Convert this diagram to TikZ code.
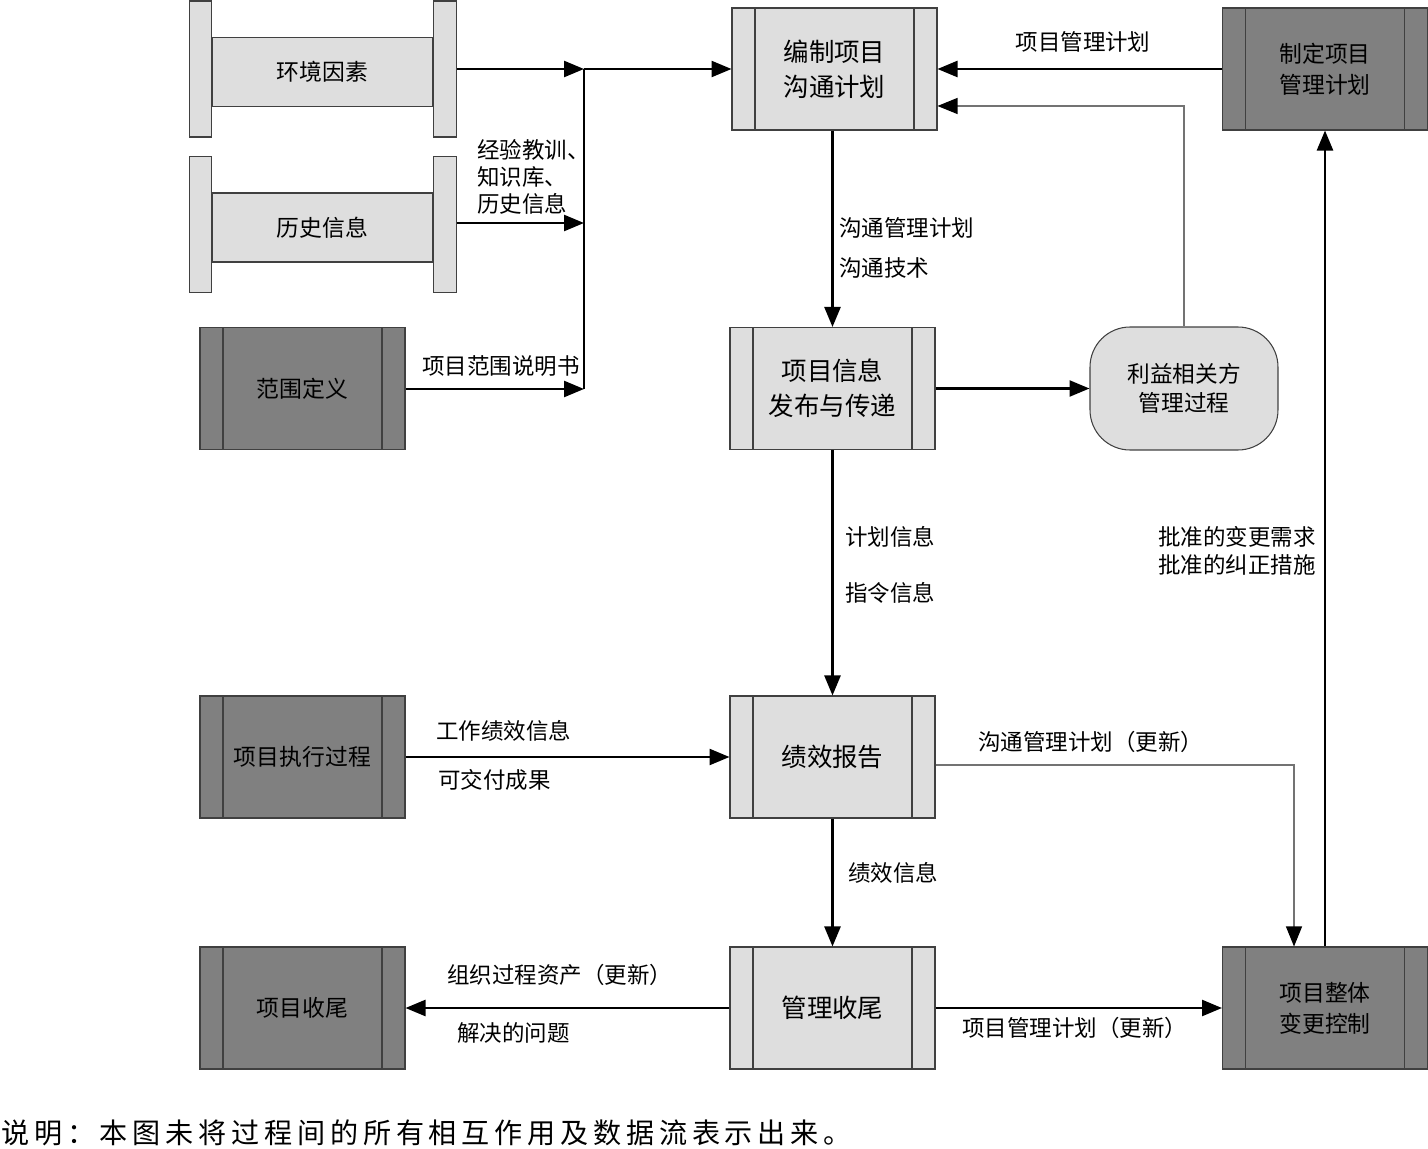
\documentclass[tikz,border=0pt]{standalone}
\usepackage{fontspec}
\setmainfont{Noto Sans CJK SC}
\newfontfamily\notefont[LetterSpace=17]{Noto Sans CJK SC}
\usetikzlibrary{arrows.meta}

\colorlet{lightbox}{black!13}
\colorlet{darkbox}{black!50}
\colorlet{thinline}{black!55}

\tikzset{
  proc/.style = {draw = black!75, line width = 0.6pt, minimum width = 4.1cm, minimum height = 2.44cm,
    align = center, inner sep = 0pt,
    path picture = {\draw[black!75, line width = 0.6pt]
      ([xshift = 0.46cm]path picture bounding box.north west) -- ([xshift = 0.46cm]path picture bounding box.south west)
      ([xshift = -0.46cm]path picture bounding box.north east) -- ([xshift = -0.46cm]path picture bounding box.south east);}},
  lightproc/.style = {proc, fill = lightbox, font = \fontsize{14.5}{20}\selectfont},
  darkproc/.style = {proc, fill = darkbox, font = \fontsize{13}{17.5}\selectfont},
  store/.style = {draw = black!75, fill = lightbox, line width = 0.6pt, minimum width = 4.42cm,
    minimum height = 1.38cm, inner sep = 0pt, font = \fontsize{13}{17}\selectfont},
  party/.style = {draw = black!75, fill = lightbox, line width = 0.6pt, rounded corners = 0.8cm,
    minimum width = 3.76cm, minimum height = 2.46cm, align = center, font = \fontsize{12.9}{16.5}\selectfont},
  lbl/.style = {inner sep = 0pt, align = left, font = \fontsize{12.8}{15.5}\selectfont},
  flow/.style = {line width = 1.4pt, -{Triangle[length = 0.4cm, width = 0.32cm]}},
  thinflow/.style = {thinline, line width = 0.6pt, -{Triangle[length = 0.4cm, width = 0.32cm, color = black]}}
}

\begin{document}
\begin{tikzpicture}[x = 0.02cm, y = -0.02cm]
\useasboundingbox (0,0) rectangle (1428,1149);

% inputs on the left
\node[store] (env) at (322.5,72) {环境因素};
\node[store] (hist) at (322.5,227.5) {历史信息};
\foreach \n in {env,hist}
{
	\filldraw[fill = lightbox, draw = black!75, line width = 0.6pt] ([yshift = 0.72cm]\n.north west) rectangle ([xshift = -0.44cm, yshift = -0.6cm]\n.south west);
	\filldraw[fill = lightbox, draw = black!75, line width = 0.6pt] ([yshift = 0.72cm]\n.north east) rectangle ([xshift = 0.46cm, yshift = -0.6cm]\n.south east);
}
\node[darkproc] (scope) at (302.5,388.5) {范围定义};
\node[darkproc] (exec) at (302.5,757) {项目执行过程};
\node[darkproc] (closeproj) at (302.5,1008) {项目收尾};

% communication processes
\node[lightproc] (plan) at (834.5,69) {编制项目\\沟通计划};
\node[lightproc] (dist) at (832.5,388.5) {项目信息\\发布与传递};
\node[lightproc] (perf) at (832.5,757) {绩效报告};
\node[lightproc] (admin) at (832.5,1008) {管理收尾};

% other processes
\node[darkproc] (pmp) at (1325,69) {制定项目\\管理计划};
\node[party] (stake) at (1184,388.5) {利益相关方\\管理过程};
\node[darkproc] (icc) at (1325,1008) {项目整体\\变更控制};

% bus into the planning process
\coordinate (bustop) at (584,69);
\coordinate (busmid) at (584,223);
\coordinate (busbot) at (584,389);
\draw[line width = 1.4pt] (bustop) -- (busbot);
\draw[flow] ([xshift = 0.46cm]env.east |- bustop) -- (bustop);
\draw[flow] ([xshift = 0.46cm]hist.east |- busmid) -- (busmid);
\draw[flow] (scope.east |- busbot) -- (busbot);
\draw[flow] (bustop) -- (plan.west);

\draw[flow] (pmp.west) -- (plan.east);
\draw[thinflow] (stake.north) |- ([yshift = -0.74cm]plan.east);
\draw[flow] (plan.south -| dist.north) -- (dist.north);
\draw[flow] (dist.east) -- (stake.west);
\draw[flow] (dist.south) -- (perf.north);
\draw[flow] (exec.east) -- (perf.west);
\draw[thinflow] ([yshift = -0.16cm]perf.east) -| ([xshift = -0.62cm]icc.north);
\draw[flow] (perf.south) -- (admin.north);
\draw[flow] (admin.west) -- (closeproj.east);
\draw[flow] (admin.east) -- (icc.west);
\draw[flow] (icc.north) -- (pmp.south);

% flow labels
\node[lbl, anchor = west] (lessons) at (477,177) {经验教训、\\知识库、\\历史信息};
\node[lbl] (scopestmt) at (501,366) {项目范围说明书};
\node[lbl] (pmplan) at (1083,42) {项目管理计划};
\node[lbl, anchor = west] (cmplan) at (839,228) {沟通管理计划};
\node[lbl, anchor = west] (cmtech) at (839,268) {沟通技术};
\node[lbl, anchor = west] (planinfo) at (845,537) {计划信息};
\node[lbl, anchor = west] (orderinfo) at (845,593) {指令信息};
\node[lbl, anchor = west, font = \fontsize{12.8}{16}\selectfont] (approved) at (1158,551) {批准的变更需求\\批准的纠正措施};
\node[lbl, anchor = west] (workperf) at (436,731) {工作绩效信息};
\node[lbl, anchor = west] (deliver) at (438,780) {可交付成果};
\node[lbl, anchor = west] (cmupdate) at (978,742) {沟通管理计划（更新）};
\node[lbl, anchor = west] (perfinfo) at (848,873) {绩效信息};
\node[lbl, anchor = west] (opaupdate) at (447,975) {组织过程资产（更新）};
\node[lbl, anchor = west] (issues) at (457,1033) {解决的问题};
\node[lbl, anchor = west] (pmpupdate) at (962,1028) {项目管理计划（更新）};

\node[inner sep = 0pt, anchor = west, font = \notefont\fontsize{16}{18}\selectfont] (note) at (1,1133) {说明：本图未将过程间的所有相互作用及数据流表示出来。};
\end{tikzpicture}
\end{document}
